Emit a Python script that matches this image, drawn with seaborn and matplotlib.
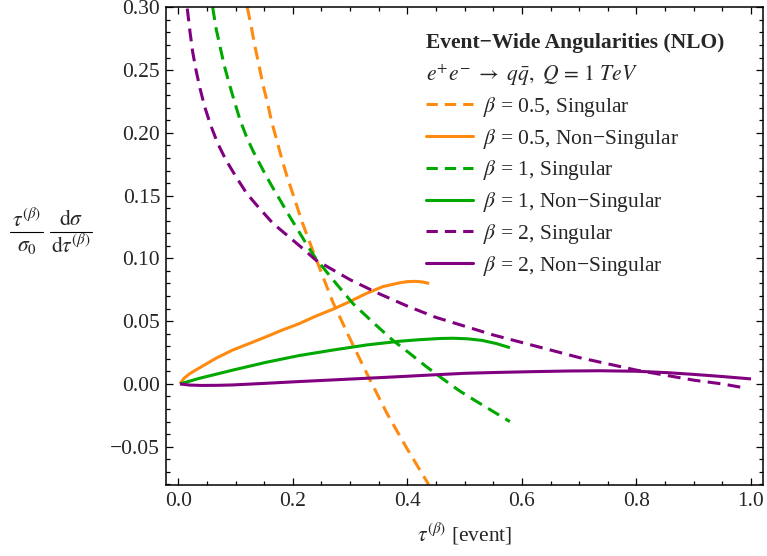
import numpy as np
import pandas as pd
import matplotlib
matplotlib.use("Agg")
import matplotlib.pyplot as plt
import matplotlib.ticker as mticker
from matplotlib.lines import Line2D
import seaborn as sns

# ---------------- data ----------------
b05_sing_x = [0.1205, 0.128, 0.134, 0.1414, 0.148, 0.156, 0.163, 0.172, 0.1805, 0.190, 0.1997, 0.217, 0.235, 0.270, 0.305, 0.335, 0.365, 0.400, 0.437]
b05_sing_y = [0.300, 0.283, 0.2685, 0.2526, 0.238, 0.2234, 0.2088, 0.194, 0.1797, 0.165, 0.1518, 0.128, 0.106, 0.065, 0.031, 0.003, -0.024, -0.052, -0.080]

b05_ns_x = [0.003, 0.010, 0.020, 0.037, 0.066, 0.095, 0.124, 0.153, 0.182, 0.211, 0.240, 0.270, 0.299, 0.328, 0.357, 0.386, 0.400, 0.415, 0.427, 0.438]
b05_ns_y = [0.000, 0.0045, 0.0082, 0.0128, 0.0205, 0.027, 0.0322, 0.0375, 0.043, 0.048, 0.054, 0.0595, 0.0655, 0.072, 0.0775, 0.0805, 0.0815, 0.0817, 0.0812, 0.080]

b1_sing_x = [0.060, 0.066, 0.073, 0.080, 0.089, 0.098, 0.108, 0.119, 0.130, 0.142, 0.153, 0.166, 0.179, 0.191, 0.203, 0.223, 0.240, 0.270, 0.305, 0.340, 0.374, 0.405, 0.433, 0.462, 0.491, 0.521, 0.550, 0.579]
b1_sing_y = [0.300, 0.283, 0.2685, 0.254, 0.239, 0.225, 0.210, 0.197, 0.186, 0.1755, 0.166, 0.1555, 0.1455, 0.136, 0.127, 0.112, 0.100, 0.083, 0.064, 0.049, 0.035, 0.024, 0.0138, 0.004, -0.0055, -0.014, -0.022, -0.030]

b1_ns_x = [0.003, 0.037, 0.095, 0.153, 0.211, 0.270, 0.328, 0.386, 0.420, 0.457, 0.480, 0.504, 0.530, 0.555, 0.579]
b1_ns_y = [0.000, 0.0045, 0.011, 0.0172, 0.0226, 0.027, 0.031, 0.034, 0.0352, 0.0362, 0.0364, 0.036, 0.0347, 0.0322, 0.0289]

b2_sing_x = [0.0157, 0.0204, 0.0251, 0.0309, 0.0379, 0.0461, 0.0566, 0.0688, 0.0833, 0.1008, 0.1194, 0.1357, 0.165, 0.191, 0.217, 0.240, 0.300, 0.350, 0.400, 0.450, 0.500, 0.550, 0.600, 0.650, 0.700, 0.750, 0.800, 0.850, 0.900, 0.950, 0.987]
b2_sing_y = [0.299, 0.2805, 0.2645, 0.250, 0.2354, 0.2207, 0.206, 0.1916, 0.1783, 0.165, 0.1518, 0.143, 0.128, 0.118, 0.108, 0.0987, 0.083, 0.072, 0.062, 0.053, 0.046, 0.039, 0.033, 0.027, 0.021, 0.016, 0.011, 0.007, 0.003, 0.000, -0.003]

b2_ns_x = [0.003, 0.020, 0.040, 0.070, 0.095, 0.153, 0.211, 0.270, 0.328, 0.386, 0.444, 0.502, 0.560, 0.620, 0.680, 0.736, 0.800, 0.853, 0.900, 0.950, 1.000]
b2_ns_y = [0.000, -0.0009, -0.0012, -0.0011, -0.0008, 0.0005, 0.0019, 0.0032, 0.0045, 0.0058, 0.0072, 0.0085, 0.0092, 0.0098, 0.0103, 0.0105, 0.0101, 0.009, 0.0076, 0.0059, 0.004]

series_labels = [
    r"$\beta$ = 0.5, Singular",
    r"$\beta$ = 0.5, Non" + "\u2212" + "Singular",
    r"$\beta$ = 1, Singular",
    r"$\beta$ = 1, Non" + "\u2212" + "Singular",
    r"$\beta$ = 2, Singular",
    r"$\beta$ = 2, Non" + "\u2212" + "Singular",
]
legend_title = "Event\u2212Wide Angularities (NLO)"
legend_subtitle = r"$e^{+}e^{-}\ \rightarrow\ q\bar{q},\ Q\, =\, \mathit{1\ TeV}$"
x_label = r"$\tau^{(\beta)}$ [event]"
# y label: two stacked fractions (numerator, denominator)
y_label_num = [r"$\tau^{(\beta)}$", r"$\mathrm{d}\sigma$"]
y_label_den = [r"$\sigma_0$", r"$\mathrm{d}\tau^{(\beta)}$"]

# ---------------- style ----------------
sns.set_style("ticks")
plt.rcParams["font.family"] = ["Liberation Serif", "DejaVu Serif"]
plt.rcParams["mathtext.fontset"] = "stix"
plt.rcParams["axes.unicode_minus"] = True

ORANGE = "#ff8a10"
GREEN = "#00a800"
PURPLE = "#800080"
colors = [ORANGE, ORANGE, GREEN, GREEN, PURPLE, PURPLE]
dashed = [True, False, True, False, True, False]
LW = 2.2
DASH = (4.2, 2.4)
FS = 15.5

W, H = 767, 556
fig = plt.figure(figsize=(W / 100, H / 100), dpi=100)
fig.patch.set_facecolor("white")
ax = fig.add_axes([165.7 / W, 1 - 485 / H, (763.3 - 165.7) / W, (485 - 7.3) / H])

all_x = [b05_sing_x, b05_ns_x, b1_sing_x, b1_ns_x, b2_sing_x, b2_ns_x]
all_y = [b05_sing_y, b05_ns_y, b1_sing_y, b1_ns_y, b2_sing_y, b2_ns_y]

for xs, ys, lab, c, d in zip(all_x, all_y, series_labels, colors, dashed):
    df = pd.DataFrame({"tau": xs, "val": ys})
    sns.lineplot(data=df, x="tau", y="val", ax=ax, color=c, lw=LW,
                 sort=False, estimator=None, legend=False)
    l = ax.lines[-1]
    l.set_solid_capstyle("butt")
    l.set_solid_joinstyle("round")
    if d:
        l.set_dashes(DASH)
        l.set_dash_capstyle("butt")

ax.set_xlim(-0.022, 1.0215)
ax.set_ylim(-0.0805, 0.30)

ax.xaxis.set_major_locator(mticker.MultipleLocator(0.2))
ax.xaxis.set_minor_locator(mticker.MultipleLocator(0.05))
ax.yaxis.set_major_locator(mticker.MultipleLocator(0.05))
ax.yaxis.set_minor_locator(mticker.MultipleLocator(0.01))

def yfmt(v, pos):
    s = f"{v:.2f}"
    if s == "-0.00":
        s = "0.00"
    return s.replace("-", "\u2212")

def xfmt(v, pos):
    s = f"{v:.1f}"
    if s == "-0.0":
        s = "0.0"
    return s.replace("-", "\u2212")

ax.yaxis.set_major_formatter(mticker.FuncFormatter(yfmt))
ax.xaxis.set_major_formatter(mticker.FuncFormatter(xfmt))

for side in ["top", "right", "left", "bottom"]:
    ax.spines[side].set_visible(True)
    ax.spines[side].set_linewidth(1.1)
    ax.spines[side].set_color("black")

ax.tick_params(which="both", direction="in", top=True, right=True,
               color="black", width=0.9, labelsize=FS)
ax.tick_params(which="major", length=5.0, pad=4)
ax.tick_params(which="minor", length=3.0)
ax.tick_params(axis="x", which="major", pad=5)

ax.set_xlabel(x_label, fontsize=FS, labelpad=7)
ax.set_ylabel("")

# y label built as two fractions (pixel layout of the reference)
frac_centres = [26.5, 71.0]
frac_bars = [(10, 43), (50, 92)]
for cx, (b0, b1), num, den in zip(frac_centres, frac_bars, y_label_num, y_label_den):
    fig.text(cx / W, 1 - 220 / H, num, fontsize=FS, ha="center", va="center")
    fig.text(cx / W, 1 - 246 / H, den, fontsize=FS, ha="center", va="center")
    fig.add_artist(Line2D([b0 / W, b1 / W], [1 - 232 / H, 1 - 232 / H],
                          transform=fig.transFigure, color="black", lw=0.8))

# legend header
fig.text(426 / W, 1 - 43 / H, legend_title, fontsize=FS, fontweight="bold",
         ha="left", va="center")
fig.text(426 / W, 1 - 75 / H, legend_subtitle, fontsize=FS, ha="left", va="center")

handles = []
for c, d in zip(colors, dashed):
    h = Line2D([0], [0], color=c, lw=LW)
    if d:
        h.set_dashes((3.7, 2.3))
        h.set_dash_capstyle("butt")
    handles.append(h)

leg = ax.legend(handles, series_labels, loc="upper left",
                bbox_to_anchor=(426 / W, 1 - 95 / H), bbox_transform=fig.transFigure,
                frameon=False, fontsize=FS, handlelength=47 / (FS * 100 / 72),
                handletextpad=0.45, labelspacing=0.36, borderpad=0, borderaxespad=0)

fig.savefig("out.png", dpi=100, facecolor="white")
